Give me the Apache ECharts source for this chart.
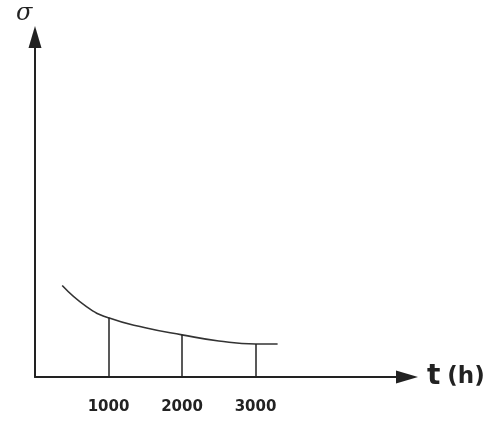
<!DOCTYPE html>
<html>
<head>
<meta charset="utf-8">
<script src="https://cdn.jsdelivr.net/npm/echarts@6/dist/echarts.min.js"></script>
<style>html,body{margin:0;padding:0;background:#fff}#c{width:490px;height:424px}</style>
</head>
<body>
<div id="c"></div>
<script>
const hours = [370, 700, 1000, 1500, 2000, 2500, 3000, 3300];
const sigma = [26.9, 20.7, 17.4, 14.5, 12.4, 10.6, 9.7, 9.7];
const markHours = [1000, 2000, 3000];
const markSigma = [17.4, 12.4, 9.7];
const xTickLabels = [1000, 2000, 3000];
const yName = 'σ';

const chart = echarts.init(document.getElementById('c'), null, {renderer: 'canvas'});
const curveData = hours.map((h, i) => [h, sigma[i]]);
const vLines = markHours.map((h, i) => [{coord: [h, 0]}, {coord: [h, markSigma[i]]}]);

chart.setOption({
  backgroundColor: '#ffffff',
  animation: false,
  title: {
    text: yName,
    left: 11, top: -3,
    textStyle: {fontFamily: 'DejaVu Serif', fontStyle: 'italic', fontWeight: 'normal', fontSize: 24, color: '#222'}
  },
  grid: {left: 35, right: 83, top: 37, bottom: 47, containLabel: false, outerBoundsMode: 'none'},
  xAxis: {
    type: 'value', min: 0, max: 5060,
    axisLine: {show: true, symbol: ['none', 'triangle'], symbolSize: [13, 22], lineStyle: {color: '#222', width: 2}},
    axisTick: {show: false},
    splitLine: {show: false},
    axisLabel: {customValues: xTickLabels, formatter: v => String(v), margin: 23, fontFamily: 'DejaVu Sans', fontWeight: 'bold', fontSize: 15, color: '#222'},
    name: '{t|t} {h|(h)}', nameLocation: 'end', nameGap: 20,
    nameTextStyle: {
      rich: {
        t: {fontFamily: 'DejaVu Sans', fontWeight: 'bold', fontSize: 28, color: '#222'},
        h: {fontFamily: 'DejaVu Sans', fontWeight: 'bold', fontSize: 23, color: '#222'}
      },
      fontFamily: 'DejaVu Sans', fontWeight: 'bold', fontSize: 20, color: '#222'
    }
  },
  yAxis: {
    type: 'value', min: 0, max: 100,
    axisLine: {show: true, symbol: ['none', 'triangle'], symbolSize: [13, 22], lineStyle: {color: '#222', width: 2}},
    axisTick: {show: false},
    splitLine: {show: false},
    axisLabel: {show: false}
  },
  series: [{
    type: 'line',
    data: curveData,
    smooth: 0.5,
    showSymbol: false,
    lineStyle: {color: '#333', width: 1.6},
    markLine: {
      silent: true,
      symbol: 'none',
      label: {show: false},
      lineStyle: {color: '#222', width: 1.5, type: 'solid'},
      data: vLines
    }
  }]
});
</script>
</body>
</html>
